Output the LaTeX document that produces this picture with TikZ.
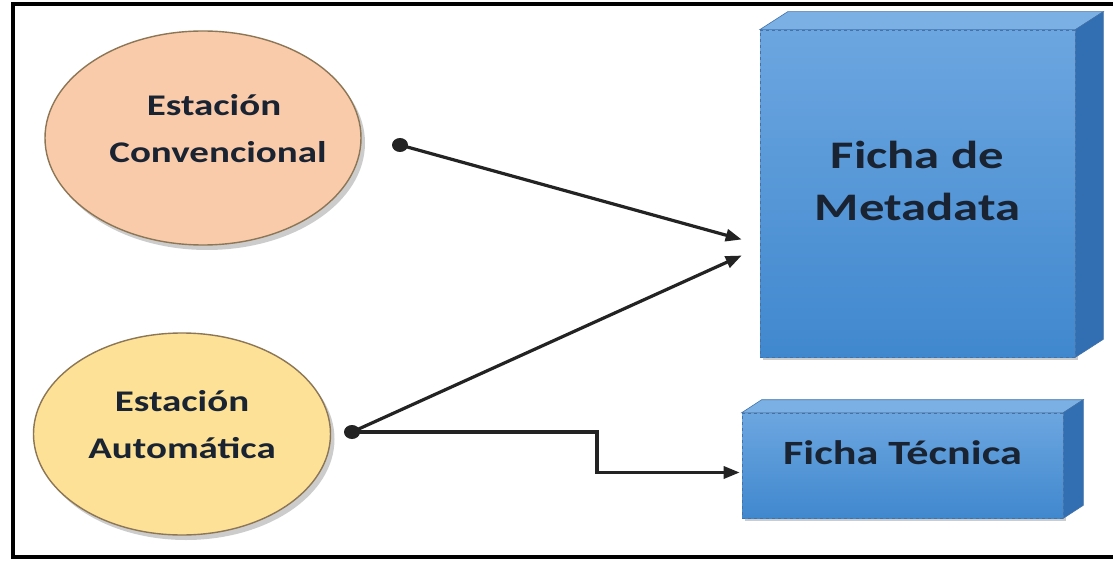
\documentclass[tikz,border=0pt]{standalone}
\usepackage{fontspec}
\setmainfont{Carlito}[FakeStretch=1.3]
\usetikzlibrary{calc, shapes.geometric, shadows, arrows.meta}
\definecolor{peach}{RGB}{249,203,170}
\definecolor{sand}{RGB}{252,225,150}
\definecolor{rimbrown}{RGB}{140,118,85}
\definecolor{bluetop}{RGB}{108,166,224}
\definecolor{bluebot}{RGB}{64,136,206}
\definecolor{bluelid}{RGB}{122,176,228}
\definecolor{blueside}{RGB}{50,110,178}
\definecolor{inkdark}{RGB}{25,35,50}
\definecolor{linkgray}{RGB}{35,35,35}

\begin{document}
\begin{tikzpicture}[x=1pt, y=-1pt,
  station/.style={ellipse, draw=rimbrown, line width=1.4pt, align=center, text=inkdark,
    font=\fontsize{30}{47}\selectfont\bfseries,
    drop shadow={shadow xshift=4pt, shadow yshift=-5pt, opacity=0.4}},
  ficha/.style={rectangle, draw=blueside!80!gray, dashed, line width=0.6pt,
    top color=bluetop, bottom color=bluebot, text=inkdark, align=center,
    drop shadow={shadow xshift=3pt, shadow yshift=-3pt, opacity=0.4}},
  lid/.style={fill=bluelid, draw=blueside!80!gray, line width=0.6pt},
  side/.style={fill=blueside, draw=blueside!80!gray, line width=0.6pt},
  link/.style={line width=3.2pt, draw=linkgray},
  tip/.style={-{Triangle[length=16pt,width=12pt]}}
]
  \useasboundingbox (0,0) rectangle (1113,564);
  \fill[white] (0,0) rectangle (1113,564);
  % frame
  \draw[line width=4pt] (1120,4) -- (13,4) -- (13,557) -- (1120,557);

  % stations
  \node[station, fill=peach, minimum width=316pt, minimum height=214pt] (conv) at (203,138)
    {\makebox[0pt]{\hspace{22pt}Estación}\\\makebox[0pt]{\hspace{30pt}Convencional}\rule[-20pt]{0pt}{1pt}};
  \node[station, fill=sand, minimum width=297pt, minimum height=202pt] (auto) at (182,434)
    {Estación\\Automática\rule[-20pt]{0pt}{1pt}};

  % fichas
  \node[ficha, minimum width=315pt, minimum height=327pt,
    font=\fontsize{39}{52}\selectfont\bfseries] (meta) at (917.5,193.5)
    {Ficha de\\Metadata\rule[-26pt]{0pt}{1pt}};
  \draw[lid] (meta.north west) -- ++(28,-18) -- ($(meta.north east)+(28,-18)$) -- (meta.north east) -- cycle;
  \draw[side] (meta.north east) -- ++(28,-18) -- ($(meta.south east)+(28,-18)$) -- (meta.south east) -- cycle;

  \node[ficha, minimum width=321pt, minimum height=105pt,
    font=\fontsize{34}{40}\selectfont\bfseries] (tec) at (902.5,465.5)
    {\raisebox{26pt}{Ficha Técnica}};
  \draw[lid] (tec.north west) -- ++(20,-13) -- ($(tec.north east)+(20,-13)$) -- (tec.north east) -- cycle;
  \draw[side] (tec.north east) -- ++(20,-13) -- ($(tec.south east)+(20,-13)$) -- (tec.south east) -- cycle;

  % connectors
  \coordinate (c1) at (400,145);
  \coordinate (c2) at (352,432);
  \coordinate (m1) at ($(meta.west)+(-18,46)$);
  \coordinate (m2) at ($(meta.west)+(-18,62)$);
  \coordinate (t1) at ($(tec.west)+(-2,7)$);
  \coordinate (bend) at (597,432);
  \draw[link, tip] (c1) -- (m1);
  \draw[link, tip] (c2) -- (m2);
  \draw[link, tip] (c2) -- (bend) |- (t1);
  \fill[linkgray] (c1) ellipse (8pt and 7pt);
  \fill[linkgray] (c2) ellipse (8pt and 7pt);
\end{tikzpicture}
\end{document}
